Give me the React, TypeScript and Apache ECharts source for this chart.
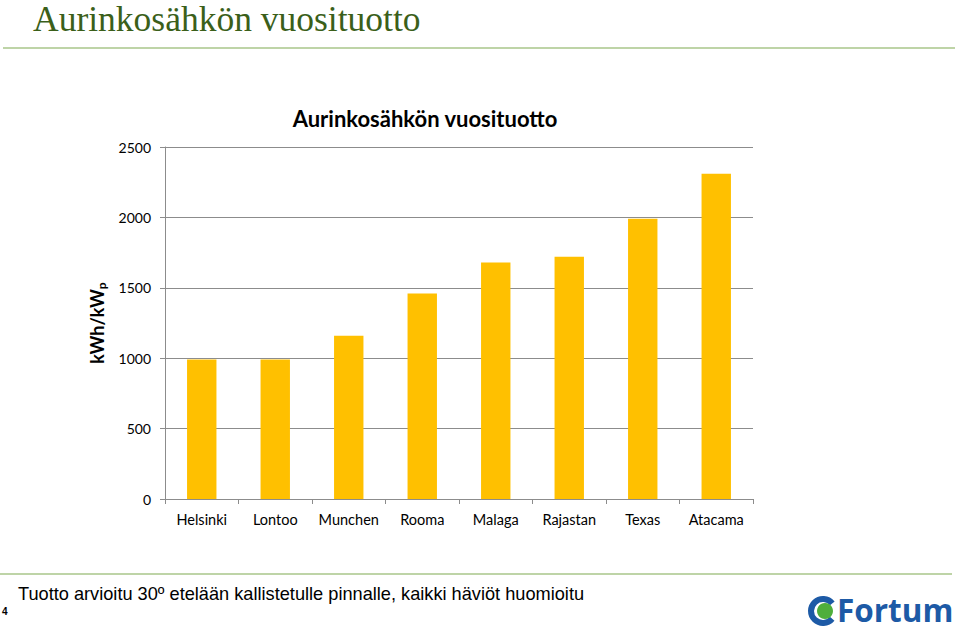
import React, { useEffect, useRef } from "react";
import * as echarts from "echarts";

const categories = ["Helsinki", "Lontoo", "Munchen", "Rooma", "Malaga", "Rajastan", "Texas", "Atacama"];
const values = [990, 990, 1160, 1460, 1680, 1720, 1990, 2310];
const yTicks = [0, 500, 1000, 1500, 2000, 2500];

const slideTitle = "Aurinkosähkön vuosituotto";
const chartTitle = "Aurinkosähkön vuosituotto";
const footnote = "Tuotto arvioitu 30º etelään kallistetulle pinnalle, kaikki häviöt huomioitu";
const pageNumber = "4";

export default function App() {
  const ref = useRef<HTMLDivElement>(null);
  useEffect(() => {
    document.body.style.margin = "0";
    const chart = echarts.init(ref.current!, null, { renderer: "svg" });
    const option: any = {
      animation: false,
      backgroundColor: "#ffffff",
      title: {
        text: chartTitle,
        left: 420,
        top: 102,
        textAlign: "center",
        textStyle: { fontFamily: "Lato", fontWeight: "bold", fontSize: 22, color: "#000" },
      },
      grid: { left: 165, right: 207, top: 147, bottom: 134, containLabel: false },
      xAxis: {
        type: "category",
        data: categories,
        axisLine: { lineStyle: { color: "#8c8c8c", width: 1 } },
        axisTick: { show: true, length: 5, lineStyle: { color: "#8c8c8c" } },
        axisLabel: { interval: 0, fontFamily: "Lato", fontSize: 14.5, color: "#000", margin: 13 },
      },
      yAxis: {
        type: "value",
        min: yTicks[0],
        max: yTicks[yTicks.length - 1],
        interval: 500,
        name: "{a|kWh/kW}{b|p}",
        nameLocation: "middle",
        nameGap: 58,
        nameRotate: 90,
        nameTextStyle: {
          rich: {
            a: { fontFamily: "Lato", fontWeight: "bold", fontSize: 18, color: "#000" },
            b: { fontFamily: "Lato", fontWeight: "bold", fontSize: 12, color: "#000", verticalAlign: "bottom", padding: [8, 0, 0, 0] },
          },
        },
        axisLine: { show: true, lineStyle: { color: "#8c8c8c", width: 1 } },
        axisTick: { show: true, length: 5, lineStyle: { color: "#8c8c8c" } },
        axisLabel: { fontFamily: "Lato", fontSize: 14, color: "#000", margin: 14, formatter: (v: number) => String(v) },
        splitLine: { show: true, lineStyle: { color: "#8c8c8c", width: 1 } },
      },
      series: [
        {
          type: "bar",
          data: values,
          barWidth: "40%",
          itemStyle: { color: "#FFC000" },
        },
      ],
      graphic: [
        {
          type: "text",
          left: 33,
          top: 1,
          style: { text: slideTitle, font: "35.5px 'Liberation Serif', serif", fill: "#3b5f1a", lineHeight: 34 },
        },
        {
          type: "line",
          shape: { x1: 3, y1: 48, x2: 955, y2: 48 },
          style: { stroke: "#a9c68a", lineWidth: 1.5 },
        },
        {
          type: "line",
          shape: { x1: 0, y1: 574, x2: 952, y2: 574 },
          style: { stroke: "#a9c68a", lineWidth: 1.5 },
        },
        {
          type: "text",
          left: 18,
          top: 585,
          style: { text: footnote, font: "18.2px 'Liberation Sans', Arial, sans-serif", fill: "#000" },
        },
        {
          type: "text",
          left: 2,
          top: 606,
          style: { text: pageNumber, font: "bold 10px 'Liberation Sans', Arial, sans-serif", fill: "#000" },
        },
        {
          type: "arc",
          shape: { cx: 823, cy: 611, r: 12, startAngle: 0.7, endAngle: 5.6 },
          style: { stroke: "#1d5aa6", lineWidth: 6, fill: "none" },
        },
        {
          type: "circle",
          shape: { cx: 825, cy: 611, r: 8 },
          style: { fill: "#4fae3b" },
        },
        {
          type: "text",
          left: 837,
          top: 593,
          style: { text: "Fortum", font: "bold 31.5px 'Open Sans', sans-serif", fill: "#1d5aa6" },
        },
      ],
    };
    chart.setOption(option);
    return () => chart.dispose();
  }, []);
  return <div ref={ref} style={{ position: "absolute", left: 0, top: 0, width: 960, height: 633 }} />;
}
